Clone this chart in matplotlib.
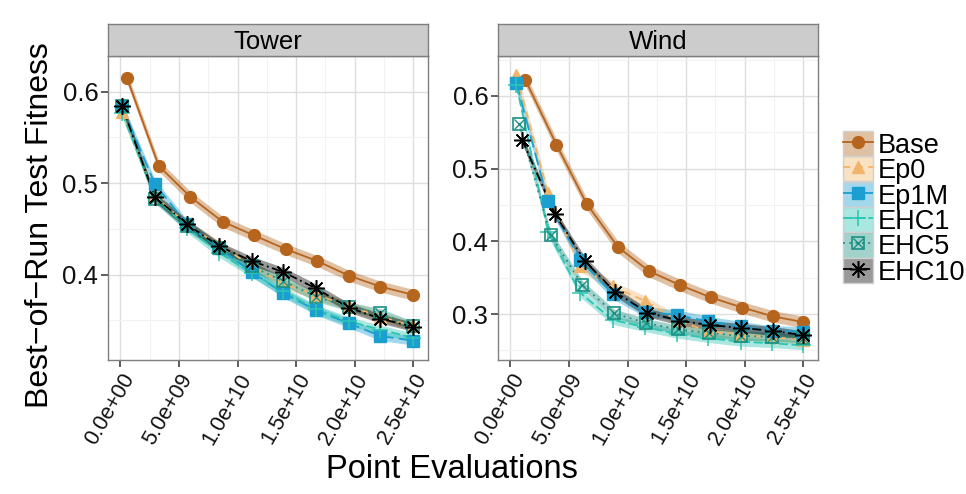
import matplotlib
matplotlib.use("Agg")
import matplotlib.pyplot as plt
from matplotlib.lines import Line2D
from matplotlib.patches import Patch
from matplotlib.ticker import MultipleLocator, FuncFormatter

plt.rcParams['font.family'] = ['Liberation Sans', 'DejaVu Sans']

# ---- data (point evaluations in units of 1e9) ----
series = ["Base", "Ep0", "Ep1M", "EHC1", "EHC5", "EHC10"]

tower_x_base = [0.56, 3.27, 5.98, 8.72, 11.4, 14.1, 16.8, 19.5, 22.2, 25.0]
tower_x_other = [0.14, 2.94, 5.70, 8.43, 11.2, 13.9, 16.7, 19.5, 22.2, 25.0]
tower_base = [0.615, 0.519, 0.485, 0.458, 0.443, 0.428, 0.415, 0.399, 0.387, 0.378]
tower_ep0 = [0.578, 0.486, 0.455, 0.432, 0.410, 0.390, 0.378, 0.366, 0.354, 0.344]
tower_ep1m = [0.584, 0.499, 0.455, 0.429, 0.403, 0.380, 0.361, 0.347, 0.333, 0.328]
tower_ehc1 = [0.577, 0.485, 0.451, 0.424, 0.402, 0.382, 0.362, 0.349, 0.340, 0.331]
tower_ehc5 = [0.584, 0.483, 0.453, 0.429, 0.409, 0.393, 0.376, 0.365, 0.358, 0.344]
tower_ehc10 = [0.584, 0.485, 0.455, 0.431, 0.415, 0.403, 0.385, 0.364, 0.352, 0.343]
tower_ci = [0.006, 0.005, 0.005, 0.005, 0.005, 0.005]

wind_x_base = [1.28, 3.93, 6.50, 9.20, 11.85, 14.47, 17.1, 19.8, 22.4, 25.0]
wind_x_ep = [0.51, 3.21, 5.98, 8.72, 11.5, 14.2, 16.9, 19.66, 22.3, 25.0]
wind_x_ehc5 = [0.74, 3.44, 6.15, 8.85, 11.56, 14.27, 16.95, 19.66, 22.36, 25.0]
wind_x_ehc10 = [1.00, 3.79, 6.35, 8.97, 11.7, 14.4, 17.0, 19.7, 22.4, 25.0]
wind_base = [0.622, 0.533, 0.452, 0.392, 0.359, 0.340, 0.323, 0.309, 0.297, 0.289]
wind_ep0 = [0.629, 0.466, 0.366, 0.338, 0.318, 0.292, 0.276, 0.272, 0.268, 0.265]
wind_ep1m = [0.618, 0.455, 0.374, 0.328, 0.303, 0.299, 0.290, 0.283, 0.277, 0.276]
wind_ehc1 = [0.615, 0.413, 0.329, 0.292, 0.282, 0.273, 0.267, 0.262, 0.260, 0.257]
wind_ehc5 = [0.562, 0.409, 0.340, 0.301, 0.288, 0.279, 0.274, 0.270, 0.269, 0.267]
wind_ehc10 = [0.540, 0.438, 0.373, 0.330, 0.302, 0.291, 0.285, 0.281, 0.277, 0.271]
wind_ci = [0.008, 0.007, 0.007, 0.006, 0.006, 0.006]

panels = [
    ("Tower", [tower_x_base] + [tower_x_other] * 5,
     [tower_base, tower_ep0, tower_ep1m, tower_ehc1, tower_ehc5, tower_ehc10],
     tower_ci, (0.3068, 0.639), [0.4, 0.5, 0.6]),
    ("Wind", [wind_x_base, wind_x_ep, wind_x_ep, wind_x_ep, wind_x_ehc5, wind_x_ehc10],
     [wind_base, wind_ep0, wind_ep1m, wind_ehc1, wind_ehc5, wind_ehc10],
     wind_ci, (0.2369, 0.655), [0.3, 0.4, 0.5, 0.6]),
]

# ---- styles ----
colors = ["#B5651D", "#F0B46A", "#1A9FD0", "#2CC5B2", "#1B9083", "#000000"]
linestyles = ["-", (0, (4, 3)), (0, (7, 3)), (0, (5, 2)), (0, (1, 2.5)), (0, (5, 2, 1, 2))]
markers = ["o", "^", "s", "+", "s", (8, 2, 0)]
msizes = [8.5, 9, 8, 12, 8.5, 12]

W, H = 966, 494
fig = plt.figure(figsize=(W / 100, H / 100), dpi=100)


def frac(x0, y0, x1, y1):
    return [x0 / W, 1 - y1 / H, (x1 - x0) / W, (y1 - y0) / H]


def draw_marker(ax, x, y, i, **kw):
    c = colors[i]
    if i == 4:
        ax.plot(x, y, ls="none", marker="s", ms=msizes[i], mfc="none", mec=c, mew=1.2, **kw)
        ax.plot(x, y, ls="none", marker="x", ms=msizes[i] * 0.8, mec=c, mew=1.0, **kw)
    elif i in (3, 5):
        ax.plot(x, y, ls="none", marker=markers[i], ms=msizes[i], mec=c, mew=1.1, **kw)
    else:
        ax.plot(x, y, ls="none", marker=markers[i], ms=msizes[i], mfc=c, mec=c, **kw)


lefts = [108, 498]
for (name, xs, ys, ci, ylim, yt), lx in zip(panels, lefts):
    ax = fig.add_axes(frac(lx, 56, lx + 320, 360))
    ax.set_facecolor("white")
    for i in range(len(series)):
        x = [v * 1e9 for v in xs[i]]
        y = ys[i]
        lo = [v - ci[i] for v in y]
        hi = [v + ci[i] for v in y]
        ax.fill_between(x, lo, hi, color=colors[i], alpha=0.4, lw=0, zorder=2)
    for i in range(len(series)):
        x = [v * 1e9 for v in xs[i]]
        ax.plot(x, ys[i], color=colors[i], ls=linestyles[i], lw=1.3, zorder=3)
        draw_marker(ax, x, ys[i], i, zorder=4)
    ax.set_xlim(-1.06e9, 26.26e9)
    ax.set_ylim(*ylim)
    ax.xaxis.set_major_locator(MultipleLocator(5e9))
    ax.xaxis.set_minor_locator(MultipleLocator(2.5e9))
    ax.set_yticks(yt)
    ax.yaxis.set_minor_locator(MultipleLocator(0.05))
    ax.xaxis.set_major_formatter(FuncFormatter(lambda v, p: f"{v:.1e}"))
    ax.yaxis.set_major_formatter(FuncFormatter(lambda v, p: f"{v:.1f}"))
    ax.grid(True, which="major", color="#DEDEDE", lw=1.0, zorder=0)
    ax.grid(True, which="minor", color="#F2F2F2", lw=0.8, zorder=0)
    ax.set_axisbelow(True)
    for s in ax.spines.values():
        s.set_color("#7F7F7F")
        s.set_linewidth(1.0)
    ax.tick_params(which="major", length=5, width=1.1, color="#333333", labelsize=18.5,
                   labelcolor="#111111", pad=2)
    ax.tick_params(which="minor", length=0)
    for lab in ax.get_xticklabels():
        lab.set_rotation(60)
        lab.set_ha("right")
        lab.set_rotation_mode("anchor")
        lab.set_fontsize(15.5)

    sax = fig.add_axes(frac(lx, 24, lx + 320, 56))
    sax.set_facecolor("#CCCCCC")
    sax.set_xticks([])
    sax.set_yticks([])
    for s in sax.spines.values():
        s.set_color("#7F7F7F")
        s.set_linewidth(1.0)
    sax.text(0.5, 0.45, name, ha="center", va="center", fontsize=18.5, transform=sax.transAxes)

fig.text(0.468, 0.05, "Point Evaluations", ha="center", va="center", fontsize=23.5)
fig.text(0.041, 0.545, "Best\u2212of\u2212Run Test Fitness", ha="center", va="center",
         rotation=90, fontsize=23)

# ---- legend ----
handles = []
for i in range(len(series)):
    p = Patch(facecolor=colors[i], alpha=0.4, edgecolor="none")
    frame = Patch(facecolor="none", edgecolor="#D0D0D0", lw=1.0)
    ln = Line2D([], [], color=colors[i], ls=linestyles[i], lw=1.3)
    if i == 4:
        m1 = Line2D([], [], ls="none", marker="s", ms=msizes[i], mfc="none", mec=colors[i], mew=1.2)
        m2 = Line2D([], [], ls="none", marker="x", ms=msizes[i] * 0.8, mec=colors[i], mew=1.0)
        handles.append((p, frame, ln, m1, m2))
    elif i in (3, 5):
        m = Line2D([], [], ls="none", marker=markers[i], ms=msizes[i], mec=colors[i], mew=1.1)
        handles.append((p, frame, ln, m))
    else:
        m = Line2D([], [], ls="none", marker=markers[i], ms=msizes[i], mfc=colors[i], mec=colors[i])
        handles.append((p, frame, ln, m))

fig.legend(handles, series, loc="upper left", bbox_to_anchor=(843 / W, 1 - 131 / H),
           frameon=False, fontsize=19.5, handlelength=1.1, handleheight=1.05,
           labelspacing=-0.09, handletextpad=0.2, borderpad=0, borderaxespad=0)

fig.savefig("out.png", dpi=100, facecolor="white")
